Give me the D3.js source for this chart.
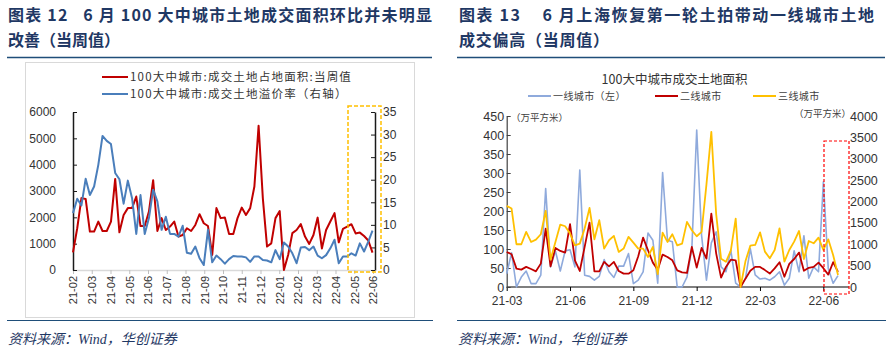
<!DOCTYPE html>
<html>
<head>
<meta charset="utf-8">
<script src="https://cdn.jsdelivr.net/npm/d3@7"></script>
<style>
  body { margin: 0; background: #fff; }
  svg { display: block; }
</style>
</head>
<body>
<div id="chart"></div>
<script>
// ---- chart 1 data (weekly, 21-02 .. 22-06) ----
const c1Months = ["21-02", "21-03", "21-04", "21-05", "21-06", "21-07", "21-08", "21-09",
  "21-10", "21-11", "21-12", "22-01", "22-02", "22-03", "22-04", "22-05", "22-06"];
// 成交土地占地面积 (left axis)
const c1Area = [670, 1585, 2730, 2700, 1460, 1460, 1840, 1480, 1480, 1840,
  3460, 1430, 2090, 2350, 2350, 2790, 1670, 1670, 2220, 3410,
  1480, 1970, 1520, 1650, 1840, 1270, 1330, 1585, 1480, 1710,
  2120, 1775, 1670, 570, 2350, 1970, 1990, 1370, 1370, 1970,
  2370, 2090, 2350, 3170, 5480, 2730, 890, 1010, 1970, 2240,
  0, 570, 1400, 1520, 1740, 1270, 990, 1330, 1990, 820,
  1520, 1840, 2160, 1050, 1560, 1650, 1740, 1390, 1420, 1290,
  1120, 660];
// 溢价率 (right axis)
const c1Premium = [12.6, 15.8, 14.3, 20.2, 16.6, 18.5, 23.3, 29.7, 28.6, 27.9,
  21.5, 20.1, 14.7, 19.8, 15.9, 8.0, 16.6, 8.0, 11.5, 17.8,
  15.2, 8.9, 11.8, 8.0, 8.0, 7.4, 9.8, 3.8, 3.6, 5.2,
  2.6, 1.1, 8.9, 1.7, 3.2, 2.4, 1.4, 2.4, 3.1, 3.0,
  3.0, 2.8, 1.8, 3.0, 3.0, 2.2, 2.1, 1.7, 4.4, 2.4,
  6.1, 5.2, 3.7, 1.5, 5.0, 5.1, 4.4, 5.2, 3.2, 2.6,
  3.3, 4.8, 6.7, 1.5, 3.0, 3.0, 3.7, 3.2, 5.9, 4.1,
  6.3, 8.7];
const c1LeftTicks = [0, 1000, 2000, 3000, 4000, 5000, 6000];
const c1RightTicks = [0, 5, 10, 15, 20, 25, 30, 35];

// ---- chart 2 data (weekly, 21-03 .. 22-06) ----
const c2Ticks = ["21-03", "21-06", "21-09", "21-12", "22-03", "22-06"];
// 一线城市 (left axis)
const c2Tier1 = [35, 90, 0, 26, 42, 9, 9, 31, 259, 53,
  95, 42, 95, 98, 53, 308, 31, 28, 18, 28,
  72, 40, 25, 55, 55, 88, 9, 18, 40, 142,
  123, 10, 301, 123, 119, 0, 0, 26, 101, 413,
  136, 18, 116, 145, 53, 40, 97, 10, 0, 22,
  101, 32, 21, 23, 18, 27, 40, 5, 23, 95,
  40, 135, 23, 53, 40, 277, 49, 10, 30];
// 二线城市 (right axis)
const c2Tier2 = [820, 765, 430, 406, 470, 420, 367, 547, 1367, 484,
  914, 843, 805, 1470, 625, 375, 937, 1507, 367, 367,
  586, 484, 586, 375, 312, 312, 390, 718, 1156, 859,
  570, 406, 758, 703, 625, 390, 343, 328, 937, 453,
  914, 664, 1718, 781, 219, 469, 640, 625, 0, 195,
  380, 470, 470, 395, 315, 435, 580, 240, 540, 655,
  805, 380, 450, 470, 570, 440, 290, 580, 355];
// 三线城市 (right axis)
const c2Tier3 = [1898, 1835, 1000, 1000, 1289, 1054, 1109, 1234, 1781, 640,
  1054, 1460, 1421, 1250, 976, 1015, 1367, 1851, 1117, 1562,
  898, 1093, 1195, 820, 898, 1171, 1039, 898, 898, 703,
  937, 300, 1273, 1054, 1234, 976, 1015, 1523, 1328, 1187,
  1290, 2400, 3630, 1700, 660, 590, 850, 1600, 0, 600,
  967, 983, 1279, 827, 671, 866, 1373, 593, 866, 1061,
  1310, 655, 1076, 1022, 1154, 866, 1115, 749, 281];
const c2LeftTicks = [0, 50, 100, 150, 200, 250, 300, 350, 400, 450];
const c2RightTicks = [0, 500, 1000, 1500, 2000, 2500, 3000, 3500, 4000];

const width = 891, height = 354;
const cjk = '"Noto Sans CJK SC", sans-serif';
const num = '"Liberation Sans", Arial, "Noto Sans CJK SC", sans-serif';
const navy = "#1F3864";
const plain = d3.format("d");

const svg = d3.select("#chart").append("svg")
  .attr("width", width)
  .attr("height", height);

// ---- titles, rules and source notes ----
function addTitle(x, lines) {
  lines.forEach((l, i) => {
    const t = svg.append("text")
      .attr("x", x)
      .attr("y", 21 + i * 25)
      .attr("font-family", cjk)
      .attr("font-weight", "bold")
      .attr("font-size", "16px")
      .attr("fill", navy)
      .attr("xml:space", "preserve")
      .text(l.text);
    if (l.len) t.attr("textLength", l.len).attr("lengthAdjust", "spacing");
  });
}
addTitle(8, [
  { text: "图表 12   6 月 100 大中城市土地成交面积环比并未明显", len: 424 },
  { text: "改善（当周值）" }
]);
addTitle(459, [
  { text: "图表 13    6 月上海恢复第一轮土拍带动一线城市土地", len: 415 },
  { text: "成交偏高（当周值）", len: 150 }
]);

[[7, 432], [457, 885]].forEach(([a, b]) => {
  svg.append("line").attr("x1", a).attr("x2", b).attr("y1", 57.5).attr("y2", 57.5)
    .attr("stroke", "#1F4E79").attr("stroke-width", 1.6);
  svg.append("line").attr("x1", a).attr("x2", b + 1).attr("y1", 320.5).attr("y2", 320.5)
    .attr("stroke", "#1F4E79").attr("stroke-width", 1.2);
  svg.append("text")
    .attr("x", a + 1).attr("y", 344)
    .attr("font-family", '"Liberation Serif", "Noto Sans CJK SC", serif')
    .attr("font-style", "italic")
    .attr("font-size", "14px")
    .attr("fill", navy)
    .text("资料来源：Wind，华创证券");
});

// =========================== CHART 1 ===========================
svg.append("rect")
  .attr("x", 25.5).attr("y", 62.5).attr("width", 389).attr("height", 255)
  .attr("fill", "none").attr("stroke", "#D9D9D9");

const legend1 = [
  { name: "100大中城市:成交土地占地面积:当周值", color: "#C00000" },
  { name: "100大中城市:成交土地溢价率（右轴）", color: "#4A7EBB" }
];
legend1.forEach((d, i) => {
  const y = 77 + i * 17;
  svg.append("line").attr("x1", 102).attr("x2", 128).attr("y1", y).attr("y2", y)
    .attr("stroke", d.color).attr("stroke-width", 2);
  svg.append("text").attr("x", 130).attr("y", y).attr("dy", "0.35em")
    .attr("font-family", cjk).attr("font-size", "11.5px").attr("fill", "#333")
    .attr("letter-spacing", "1.2px")
    .text(d.name);
});

const x1 = d3.scaleLinear().domain([0, c1Area.length - 1]).range([73, 372.5]);
const xm1 = d3.scalePoint().domain(c1Months).range([73, 373]);
const yL1 = d3.scaleLinear().domain([0, 6000]).range([270, 112]);
const yR1 = d3.scaleLinear().domain([0, 35]).range([270, 112]);

// x axis (grey, rotated labels)
const gx1 = svg.append("g")
  .attr("transform", "translate(0,270)")
  .call(d3.axisBottom(xm1).tickSizeInner(4).tickSizeOuter(0));
gx1.select(".domain").attr("stroke", "#D9D9D9").attr("stroke-width", 1.5);
gx1.selectAll(".tick line").attr("stroke", "#BFBFBF");
gx1.selectAll("text")
  .attr("transform", "rotate(-90)")
  .attr("text-anchor", "end")
  .attr("x", -6).attr("y", 0).attr("dy", "0.35em")
  .attr("font-family", num).attr("font-size", "11px").attr("fill", "#333");

// left axis
const gl1 = svg.append("g")
  .attr("transform", "translate(73,0)")
  .call(d3.axisLeft(yL1).tickValues(c1LeftTicks).tickFormat(plain)
    .tickSizeInner(-4).tickSizeOuter(0).tickPadding(17));
// right axis
const gr1 = svg.append("g")
  .attr("transform", "translate(375,0)")
  .call(d3.axisRight(yR1).tickValues(c1RightTicks).tickFormat(plain)
    .tickSizeInner(-4).tickSizeOuter(0).tickPadding(8));
[gl1, gr1].forEach((g) => {
  g.select(".domain").attr("stroke", "#1a1a1a").attr("stroke-width", 1.5);
  g.selectAll(".tick line").attr("stroke", "#1a1a1a");
  g.selectAll("text").attr("font-family", num).attr("font-size", "12px").attr("fill", "#333");
});

const line1L = d3.line().x((d, i) => x1(i)).y((d) => yL1(d));
const line1R = d3.line().x((d, i) => x1(i)).y((d) => yR1(d));
svg.append("path").datum(c1Area).attr("d", line1L)
  .attr("fill", "none").attr("stroke", "#C00000").attr("stroke-width", 2).attr("stroke-linejoin", "round");
svg.append("path").datum(c1Premium).attr("d", line1R)
  .attr("fill", "none").attr("stroke", "#4A7EBB").attr("stroke-width", 2).attr("stroke-linejoin", "round");

// highlight box
svg.append("rect")
  .attr("x", 348).attr("y", 106).attr("width", 33).attr("height", 166)
  .attr("fill", "none").attr("stroke", "#FFC000").attr("stroke-width", 1.5)
  .attr("stroke-dasharray", "4,2");

// =========================== CHART 2 ===========================
svg.append("text")
  .attr("x", 674.5).attr("y", 84).attr("text-anchor", "middle")
  .attr("font-family", cjk).attr("font-size", "12.5px").attr("fill", "#333")
  .text("100大中城市成交土地面积");

const legend2 = [
  { name: "一线城市（左）", color: "#8FAADC", x: 528 },
  { name: "二线城市", color: "#C00000", x: 655 },
  { name: "三线城市", color: "#FFC000", x: 753 }
];
legend2.forEach((d) => {
  svg.append("line").attr("x1", d.x).attr("x2", d.x + 23).attr("y1", 96).attr("y2", 96)
    .attr("stroke", d.color).attr("stroke-width", 2);
  svg.append("text").attr("x", d.x + 25).attr("y", 96).attr("dy", "0.35em")
    .attr("font-family", cjk).attr("font-size", "10px").attr("fill", "#404040")
    .attr("letter-spacing", "0.4px")
    .text(d.name);
});

svg.append("text").attr("x", 511).attr("y", 121)
  .attr("font-family", cjk).attr("font-size", "9.5px").attr("fill", "#404040")
  .text("（万平方米）");
svg.append("text").attr("x", 794).attr("y", 117)
  .attr("font-family", cjk).attr("font-size", "9.5px").attr("fill", "#404040")
  .text("（万平方米）");

const x2 = d3.scaleLinear().domain([0, c2Tier1.length - 1]).range([506.7, 838]);
const xm2 = d3.scalePoint().domain(c2Ticks).range([506.7, 823.3]);
const yL2 = d3.scaleLinear().domain([0, 450]).range([287, 116]);
const yR2 = d3.scaleLinear().domain([0, 4000]).range([287, 116]);

const gx2 = svg.append("g")
  .attr("transform", "translate(0,287)")
  .call(d3.axisBottom(xm2).tickSizeInner(4).tickSizeOuter(0).tickPadding(5));
gx2.select(".domain").remove();
gx2.selectAll(".tick line").attr("stroke", "#000");
gx2.selectAll("text").attr("font-family", num).attr("font-size", "12px").attr("fill", "#333");
svg.append("line").attr("x1", 506.7).attr("x2", 849).attr("y1", 287).attr("y2", 287)
  .attr("stroke", "#000").attr("stroke-width", 1.2);

const gl2 = svg.append("g")
  .attr("transform", "translate(506.7,0)")
  .call(d3.axisLeft(yL2).tickValues(c2LeftTicks).tickFormat(plain)
    .tickSizeInner(-4).tickSizeOuter(0).tickPadding(2.5));
gl2.select(".domain").attr("stroke", "#404040").attr("stroke-width", 1.2);
gl2.selectAll(".tick line").attr("stroke", "#404040");

const gr2 = svg.append("g")
  .attr("transform", "translate(850,0)")
  .call(d3.axisRight(yR2).tickValues(c2RightTicks).tickFormat(plain).tickSize(0).tickPadding(0));
gr2.select(".domain").remove();
[gl2, gr2].forEach((g) => {
  g.selectAll("text").attr("font-family", num).attr("font-size", "12.5px").attr("fill", "#333");
});

const line2L = d3.line().x((d, i) => x2(i)).y((d) => yL2(d));
const line2R = d3.line().x((d, i) => x2(i)).y((d) => yR2(d));
svg.append("path").datum(c2Tier1).attr("d", line2L)
  .attr("fill", "none").attr("stroke", "#8FAADC").attr("stroke-width", 1.6).attr("stroke-linejoin", "round");
svg.append("path").datum(c2Tier2).attr("d", line2R)
  .attr("fill", "none").attr("stroke", "#C00000").attr("stroke-width", 1.8).attr("stroke-linejoin", "round");
svg.append("path").datum(c2Tier3).attr("d", line2R)
  .attr("fill", "none").attr("stroke", "#FFC000").attr("stroke-width", 1.8).attr("stroke-linejoin", "round");

svg.append("rect")
  .attr("x", 824).attr("y", 141).attr("width", 25).attr("height", 153)
  .attr("fill", "none").attr("stroke", "#FF0000").attr("stroke-width", 1.2)
  .attr("stroke-dasharray", "3,2");
</script>
</body>
</html>
